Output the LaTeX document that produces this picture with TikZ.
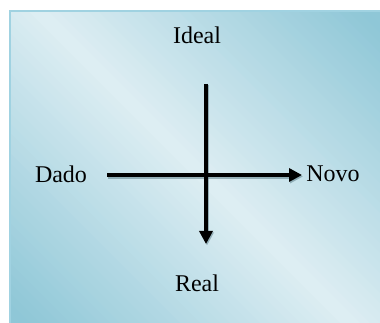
\documentclass[tikz,border=0pt]{standalone}
\usepackage{fontspec}
\setmainfont{Liberation Serif}
\usetikzlibrary{arrows.meta}
\definecolor{panelDark}{RGB}{143,199,215}
\definecolor{panelLight}{RGB}{222,238,243}
\definecolor{panelEdge}{RGB}{160,210,225}
\tikzset{
  axis/.style={line width=4.5pt,-{Triangle[length=13pt,width=13pt]}},
  axshadow/.style={axis,draw=black!40!panelDark,fill=black!40!panelDark,opacity=0.5},
  lbl/.style={font=\fontsize{24}{28}\selectfont}
}
\begin{document}
\begin{tikzpicture}[x=1pt,y=1pt]
  \useasboundingbox (0,0) rectangle (380,323);
  % panel, light along the falling diagonal, darker towards two corners
  \begin{scope}
    \clip (10,-2) rectangle (382,312);
    \foreach \s in {0,10,...,700}{
      \pgfmathtruncatemacro\m{min(100,abs(\s+5-351)/3.2)}
      \fill[panelDark!\m!panelLight] (\s+200,-200) -- (\s+211,-200) -- (\s-489,500) -- (\s-500,500) -- cycle;
    }
  \end{scope}
  \draw[panelEdge,line width=1.2pt] (10,-2) rectangle (382,312);
  \node[lbl] (ideal) at (197,288) {Ideal};
  \node[lbl] (dado) at (61,149) {Dado};
  \node[lbl] (novo) at (333,149) {Novo};
  \node[lbl] (real) at (197,40) {Real};
  \coordinate (hs) at (107,148);
  \coordinate (he) at (302,148);
  \coordinate (vs) at (206,239);
  \coordinate (ve) at (206,79);
  % soft shadow under both axes
  \draw[axshadow] ([shift={(1,-1.5)}]hs) -- ([shift={(1,-1.5)}]he);
  \draw[axshadow] ([shift={(1,-1.5)}]vs) -- ([shift={(1,-1.5)}]ve);
  \draw[axis] (hs) -- (he);
  \draw[axis] (vs) -- (ve);
\end{tikzpicture}
\end{document}
